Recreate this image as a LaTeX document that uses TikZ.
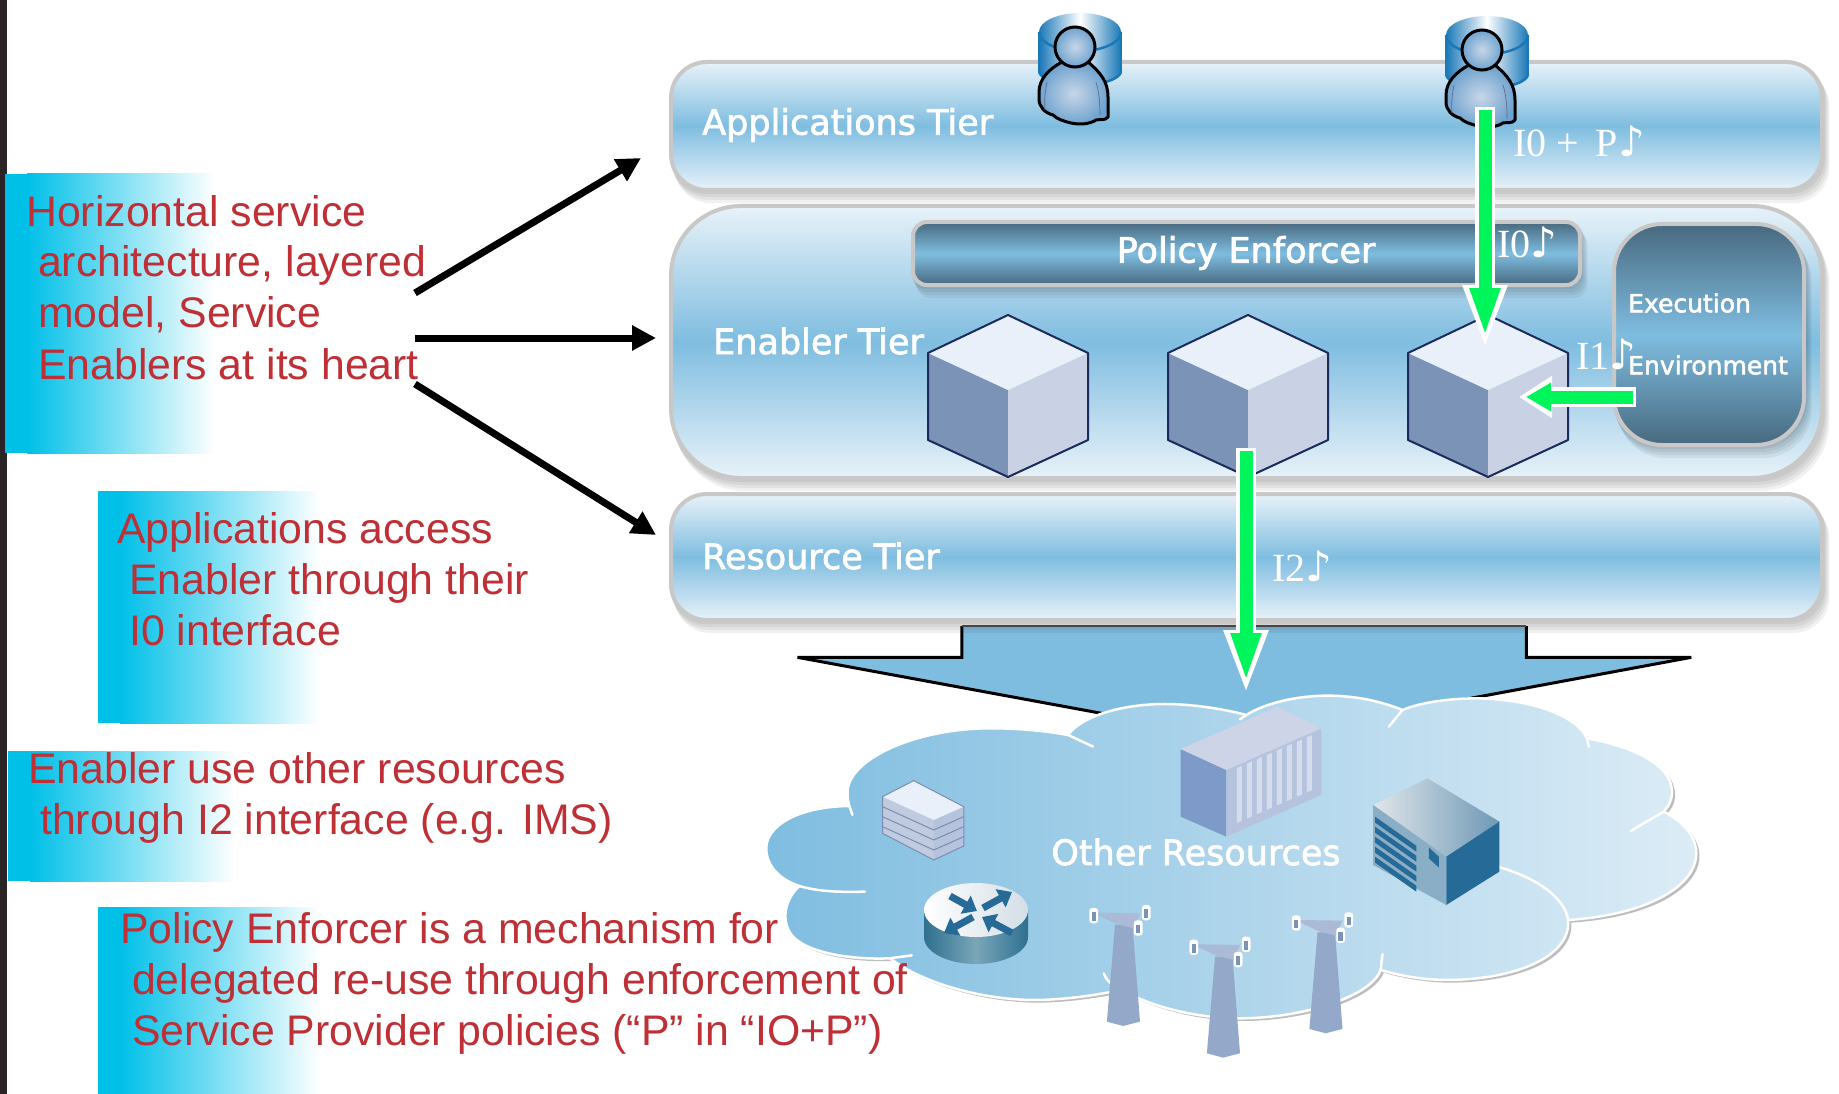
\documentclass[tikz,border=0pt]{standalone}
\usepackage{fontspec}
\usetikzlibrary{arrows.meta}
\setmainfont{Liberation Sans}
\newfontfamily\tierfont[FakeBold=2]{DejaVu Sans}
\newfontfamily\seriffont{Liberation Serif}
\newfontfamily\notefont{DejaVu Sans}
\definecolor{tiermid}{HTML}{7FBDE0}
\definecolor{tierlight}{HTML}{E8F2F9}
\definecolor{tierbord}{HTML}{C8C8C8}
\definecolor{darktier}{HTML}{48697F}
\definecolor{cyanbox}{HTML}{00C0E8}
\definecolor{redtext}{HTML}{BE3036}
\definecolor{gogreen}{HTML}{00F55A}
\definecolor{navy}{HTML}{1C2A5C}
\definecolor{steel}{HTML}{266B97}
\definecolor{towerc}{HTML}{94A9C9}
\definecolor{cylblue}{HTML}{1A78B8}
\definecolor{HTML-C8D6E8}{HTML}{C8D6E8}
\definecolor{HTML-6FA3CF}{HTML}{6FA3CF}
\definecolor{HTML-DCECF6}{HTML}{DCECF6}
\definecolor{HTML-E0E6EA}{HTML}{E0E6EA}
\definecolor{HTML-6E98B5}{HTML}{6E98B5}
\definecolor{HTML-2E7090}{HTML}{2E7090}
\definecolor{HTML-7AA6B8}{HTML}{7AA6B8}
\definecolor{HTML-D4DEE6}{HTML}{D4DEE6}
\tikzset{
  HTML/.code={\definecolor{tmpc}{HTML}{#1}\tikzset{color=tmpc}},
  tier/.style={draw=tierbord,line width=4pt,top color=tierlight,bottom color=tierlight,middle color=tiermid,anchor=north west,inner sep=0pt,outer sep=0pt},
  darkbox/.style={draw=tierbord,line width=4pt,top color=darktier,bottom color=darktier,middle color=tiermid,anchor=north west,inner sep=0pt,outer sep=0pt},
  redlabel/.style={anchor=base west,inner sep=0pt,text=redtext,font=\fontsize{42.8}{51}\selectfont},
  tierlabel/.style={anchor=west,inner sep=0pt,text=white,font=\tierfont\fontsize{35}{40}\selectfont},
  smalllabel/.style={anchor=west,inner sep=0pt,text=white,font=\tierfont\fontsize{25}{30}\selectfont},
  ifacelabel/.style={anchor=west,inner sep=0pt,text=white,font=\seriffont\fontsize{40}{44}\selectfont},
  blackarrow/.style={line width=7pt,-{Triangle[length=24pt,width=24pt]}},
  gwhiteV/.style={draw=white,line width=20pt,-{Triangle[length=65pt,width=40pt]}},
  ggreenV/.style={draw=gogreen,line width=13pt,shorten >=12pt,shorten <=3pt,-{Triangle[length=50pt,width=27pt]}},
  gwhiteH/.style={draw=white,line width=20pt,-{Triangle[length=33pt,width=40pt]}},
  ggreenH/.style={draw=gogreen,line width=13pt,shorten >=7pt,shorten <=3pt,-{Triangle[length=25pt,width=27pt]}},
}
\newcommand{\notesign}{{\notefont\fontsize{42}{42}\selectfont ♪}}
\newcommand{\textbox}[4]{%
  \fill[cyanbox] (#1,#2) rectangle ({#1+22},#4);
  \shade[left color=cyanbox,right color=white] ({#1+22},#2) rectangle (#3,#4);}
\newcommand{\softshadow}[5]{% x y w h radius
  \foreach \d in {2,5,8,11}
    \fill[black,opacity=0.055,rounded corners=#5] ({#1+\d/2},{#2+\d}) rectangle ({#1+#3+\d/2},{#2+#4+\d});}
\newcommand{\drawcube}[1]{%
  \fill[HTML=7C93B8] ({#1-80},353) -- (#1,390) -- (#1,477) -- ({#1-80},440) -- cycle;
  \fill[HTML=C8D2E4] ({#1+80},353) -- (#1,390) -- (#1,477) -- ({#1+80},440) -- cycle;
  \fill[HTML=EAF0FA] (#1,315) -- ({#1+80},353) -- (#1,390) -- ({#1-80},353) -- cycle;
  \draw[navy,line width=2pt,line join=round] (#1,315) -- ({#1+80},353) -- ({#1+80},440) -- (#1,477) -- ({#1-80},440) -- ({#1-80},353) -- cycle;}
\newcommand{\personicon}[2]{%
  \begin{scope}[shift={(#1,#2)}]
    % cylinder
    \shade[left color=cylblue,right color=cylblue,middle color=white] (-36,-16) -- (-36,24) arc[start angle=180,end angle=360,x radius=41pt,y radius=14pt] -- (46,-16) -- cycle;
    \shade[left color=cylblue,right color=cylblue,middle color=white] (5,-15) ellipse[x radius=41pt,y radius=19pt];
    \draw[cylblue,line width=2.5pt] (5,-15) ++(-41,0) arc[start angle=180,end angle=360,x radius=41pt,y radius=19pt];
    \draw[cylblue,line width=2.5pt] (-36,-15) -- (-36,24);
    \draw[cylblue,line width=2.5pt] (46,-15) -- (46,24);
    \draw[cylblue,line width=2.5pt] (-36,24) arc[start angle=180,end angle=360,x radius=41pt,y radius=14pt];
    % body
    \shade[draw=black,line width=3pt,inner color=HTML-C8D6E8,outer color=HTML-6FA3CF,line join=round]
      (13,15) .. controls (26,26) and (33,35) .. (33,50) -- (33,70) .. controls (30,74) and (25,72) .. (21,73)
      .. controls (15,77) and (5,78) .. (-4,76) .. controls (-12,74) and (-18,72) .. (-22,68)
      .. controls (-30,66) and (-36,60) .. (-36,52) -- (-36,45) .. controls (-36,32) and (-26,22) .. (-13,15) -- cycle;
    \draw[navy!70,line width=0.7pt] (-28,35) .. controls (-30,45) and (-31,55) .. (-30,63);
    \draw[navy!70,line width=0.7pt] (21,35) .. controls (24,45) and (25,55) .. (25,68);
    % head
    \shade[draw=black,line width=3pt,inner color=HTML-C8D6E8,outer color=HTML-6FA3CF] (0,0) ellipse[x radius=20pt,y radius=20pt];
  \end{scope}}
\def\cloudpath{(175,618) .. controls (90,620) and (42,680) .. (42,745) .. controls (42,800) and (65,840) .. (95,858)
 .. controls (70,900) and (65,970) .. (85,1010) .. controls (110,1060) and (180,1080) .. (240,1075)
 .. controls (300,1160) and (400,1200) .. (470,1200) .. controls (520,1200) and (570,1185) .. (610,1170)
 .. controls (670,1230) and (740,1255) .. (800,1255) .. controls (900,1255) and (1010,1190) .. (1025,1110)
 .. controls (1060,1130) and (1100,1140) .. (1130,1140) .. controls (1240,1140) and (1330,1070) .. (1325,960)
 .. controls (1450,945) and (1530,860) .. (1530,760) .. controls (1530,710) and (1510,665) .. (1478,635)
 .. controls (1510,570) and (1490,460) .. (1355,415) .. controls (1340,350) and (1270,298) .. (1180,295)
 .. controls (1130,295) and (1085,310) .. (1060,330) .. controls (1020,300) and (980,287) .. (940,287)
 .. controls (890,287) and (840,310) .. (810,345) .. controls (770,325) and (720,312) .. (680,312)
 .. controls (610,312) and (545,350) .. (525,405) .. controls (480,390) and (440,385) .. (400,385)
 .. controls (280,385) and (170,480) .. (172,580) .. controls (172,595) and (173,605) .. (175,618) -- cycle}
\newcommand{\insulator}[2]{%
  \fill[white,rounded corners=3pt] ({#1-7},{#2-23}) rectangle ({#1+7},{#2+23});
  \fill[HTML=7C93B8] ({#1-3.5},{#2-10}) rectangle ({#1+3.5},{#2+16});}
\newcommand{\towericon}[2]{%
  \begin{scope}[shift={(#1,#2)}]
    \fill[towerc] (600,975) -- (628,975) -- (640,1265) -- (613,1278) -- (587,1265) -- cycle;
    \fill[HTML=ABBAD6] (565,938) -- (640,940) -- (630,985) -- (602,972) -- cycle;
    \insulator{566}{947}\insulator{650}{938}\insulator{637}{984}
  \end{scope}}
\begin{document}
\begin{tikzpicture}[x=1pt,y=-1pt]
\useasboundingbox (0,0) rectangle (1839,1094);
\fill[white] (0,0) rectangle (1839,1094);
\fill[HTML=2A2426] (0,0) rectangle (7,1094);
% text boxes
\textbox{5}{174}{215}{453}
\textbox{98}{491}{320}{723}
\textbox{8}{751}{235}{881}
\textbox{98}{907}{320}{1094}
% big block arrow
\begin{scope}[shift={(740,600)},xscale=0.625,yscale=0.3333]
  \fill[tiermid] (355,78) -- (1258,78) -- (1258,172) -- (1522,172) -- (810,420) -- (92,172) -- (355,172) -- cycle;
  \draw[black,line width=3pt,line join=miter] (355,78) -- (355,172) -- (92,172) -- (810,420);
  \draw[black,line width=3pt] (1258,78) -- (1258,172) -- (1522,172) -- (810,420);
  \draw[HTML=555555,line width=2pt] (355,78) -- (1258,78);
\end{scope}
% tiers
\softshadow{669}{60}{1155}{132}{36pt}
\softshadow{669}{204}{1155}{276}{70pt}
\softshadow{669}{492}{1155}{130}{36pt}
\node[tier,minimum width=1151pt,minimum height=128pt,rounded corners=36pt] (apps) at (671,62) {};
\node[tier,minimum width=1151pt,minimum height=272pt,rounded corners=70pt] (enabler) at (671,206) {};
\node[tier,minimum width=1151pt,minimum height=126pt,rounded corners=36pt] (resource) at (671,494) {};
\softshadow{911}{220}{671}{67}{14pt}
\softshadow{1612}{222}{194}{225}{48pt}
\node[darkbox,minimum width=667pt,minimum height=63pt,rounded corners=14pt] (policy) at (913,222) {};
\node[darkbox,minimum width=190pt,minimum height=221pt,rounded corners=48pt] (exec) at (1614,224) {};
% cubes
\drawcube{1008}\drawcube{1248}\drawcube{1488}
\coordinate (cubetwo) at (1246,448);
\coordinate (cubethree) at (1485,350);
\coordinate (cubethreeside) at (1519,397);
% cloud
\begin{scope}[shift={(740,600)},xscale=0.625,yscale=0.3333]
  \begin{scope}[shift={(5,8)}]
    \fill[HTML=BDBDBD] \cloudpath;
  \end{scope}
  \shade[left color=tiermid,right color=HTML-DCECF6,draw=white,line width=2.5pt] \cloudpath;
  \draw[white,line width=2.5pt,line cap=round]
     (525,405) -- (565,440)
     (175,618) -- (180,645)
     (95,858) .. controls (125,875) and (160,877) .. (200,875)
     (240,1075) -- (275,1066)
     (610,1170) .. controls (595,1155) and (585,1140) .. (582,1120)
     (1025,1110) -- (1028,1062)
     (1325,960) .. controls (1320,890) and (1270,830) .. (1212,800)
     (1478,635) -- (1425,693)
     (1355,415) -- (1358,440)
     (1060,330) -- (1038,380)
     (810,345) -- (800,358);
  % server stack
  \fill[HTML=C0CBE0] (228,590) -- (310,660) -- (310,780) -- (228,700) -- cycle;
  \fill[HTML=B5C3DC] (358,620) -- (310,660) -- (310,780) -- (358,738) -- cycle;
  \fill[HTML=EAF0FA] (278,542) -- (358,620) -- (310,660) -- (228,590) -- cycle;
  \draw[HTML=7C8DB0,line width=1pt,line join=round] (278,542) -- (358,620) -- (358,738) -- (310,780) -- (228,700) -- (228,590) -- cycle;
  \foreach \d in {30,60,90}
    \draw[HTML=7C8DB0,line width=1pt] (228,{590+\d}) -- (310,{660+\d}) -- (358,{620+\d});
  % container
  \fill[HTML=7D9AC8] (705,447) -- (778,510) -- (778,710) -- (705,650) -- cycle;
  \fill[HTML=B5C3DE] (930,385) -- (778,510) -- (778,710) -- (930,585) -- cycle;
  \fill[HTML=CDD4E8] (860,320) -- (930,385) -- (778,510) -- (705,447) -- cycle;
  \foreach \s in {795,811,...,911}
    \fill[HTML=D5DCEC] (\s,{518-0.822*(\s-778)}) -- ++(8,-6.6) -- ++(0,165) -- ++(-8,6.6) -- cycle;
  % building
  \shade[left color=HTML-E0E6EA,right color=HTML-6E98B5] (1100,535) -- (1215,665) -- (1130,770) -- (1013,615) -- cycle;
  \fill[HTML=8AAEC6] (1013,615) -- (1130,770) -- (1130,915) -- (1013,795) -- cycle;
  \fill[steel] (1215,665) -- (1130,770) -- (1130,915) -- (1215,815) -- cycle;
  \foreach \s in {650,680,710,740,770}
    \fill[steel] (1016,\s) -- (1082,{\s+87}) -- (1082,{\s+105}) -- (1016,{\s+18}) -- cycle;
  \fill[steel] (1102,742) -- (1118,770) -- (1118,802) -- (1102,775) -- cycle;
\end{scope}
% router
\shade[left color=HTML-2E7090,right color=HTML-2E7090,middle color=HTML-7AA6B8]
  (924,910) -- (924,937) arc[start angle=180,end angle=360,x radius=52pt,y radius=27pt] -- (1028,910) -- cycle;
\shade[left color=white,right color=HTML-D4DEE6] (976,910) ellipse[x radius=52pt,y radius=27pt];
\foreach \a/\b/\c/\d in {950/896/977/911, 983/908/1012/892, 973/917/944/933, 1012/933/982/917}
  \draw[steel,line width=7pt,-{Triangle[length=13pt,width=20pt]}] (\a,\b) -- (\c,\d);
% towers
\begin{scope}[shift={(740,600)},xscale=0.625,yscale=0.3333]
  \towericon{0}{0}\towericon{160}{95}\towericon{324}{22}
\end{scope}
% people
\personicon{1075}{47}
\personicon{1482}{50}
% green arrows
\coordinate (persontwo) at (1485,107);
\coordinate (execside) at (1636,397);
\coordinate (cloudtop) at (1246,695);
\draw[gwhiteV] (persontwo) -- (cubethree);
\draw[ggreenV] (persontwo) -- (cubethree);
\draw[gwhiteH] (execside) -- (cubethreeside);
\draw[ggreenH] (execside) -- (cubethreeside);
\draw[gwhiteV] (cubetwo) -- (cloudtop);
\draw[ggreenV] (cubetwo) -- (cloudtop);
% tier text
\node[tierlabel] (lapps) at (702,125) {Applications Tier};
\node[tierlabel] (lenabler) at (713,341) {Enabler Tier};
\node[tierlabel] (lres) at (702,556) {Resource Tier};
\node[tierlabel,anchor=center] (lpolicy) at (1246,253) {Policy Enforcer};
\node[smalllabel] (lexec) at (1628,303) {Execution};
\node[smalllabel] (lenv) at (1628,365) {Environment};
\node[tierlabel,anchor=center] (lother) at (1196,852) {Other Resources};
% interface labels
\node[ifacelabel] (iop) at (1513,141) {I0 +\, P\notesign};
\node[ifacelabel] (izero) at (1497,242) {I0\notesign};
\node[ifacelabel] (ione) at (1576,354) {I1\notesign};
\node[ifacelabel] (itwo) at (1272,566) {I2\notesign};
% left text
\node[redlabel] (a1) at (26,226) {Horizontal service};
\node[redlabel] (a2) at (38,276) {architecture, layered};
\node[redlabel] (a3) at (38,327) {model, Service};
\node[redlabel] (a4) at (38,379) {Enablers at its heart};
\node[redlabel] (b1) at (117,543) {Applications access};
\node[redlabel] (b2) at (129,594) {Enabler through their};
\node[redlabel] (b3) at (129,645) {I0 interface};
\node[redlabel] (c1) at (28,783) {Enabler use other resources};
\node[redlabel] (c2) at (40,834) {through I2 interface (e.g. IMS)};
\node[redlabel] (d1) at (120,943) {Policy Enforcer is a mechanism for};
\node[redlabel] (d2) at (132,994) {delegated re-use through enforcement of};
\node[redlabel] (d3) at (132,1045) {Service Provider policies (“P” in “IO+P”)};
% black arrows
\coordinate (src1) at (415,293);
\coordinate (src2) at (415,338);
\coordinate (src3) at (415,384);
\coordinate (dst1) at (641,158);
\coordinate (dst2) at (656,338);
\coordinate (dst3) at (656,535);
\draw[blackarrow] (src1) -- (dst1);
\draw[blackarrow] (src2) -- (dst2);
\draw[blackarrow] (src3) -- (dst3);
\end{tikzpicture}
\end{document}
